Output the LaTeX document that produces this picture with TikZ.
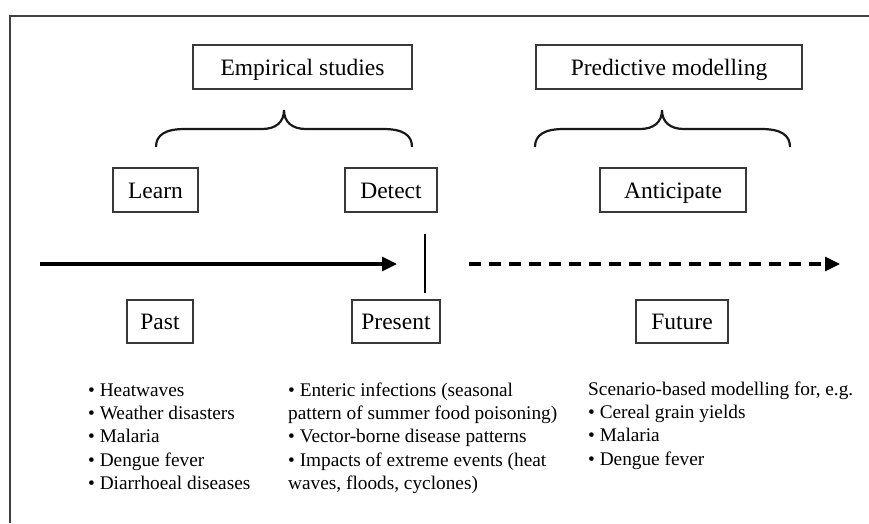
\documentclass[tikz,border=0pt]{standalone}
\usepackage{fontspec}
\setmainfont{Liberation Serif}
\usetikzlibrary{arrows.meta}

\tikzset{
  labelbox/.style={draw=black!78, line width=1.5pt, inner sep=0pt,
    minimum height=44pt, text height=16pt, text depth=0pt,
    font=\fontsize{23.5}{28}\selectfont, text=black},
  brace/.style={line width=2.2pt, black!90},
  timeline/.style={line width=3.2pt, -{Triangle[length=15pt,width=14pt]}},
  listtext/.style={anchor=north west, inner sep=0pt, align=left,
    font=\fontsize{19.3}{23.3}\selectfont},
  frameline/.style={line width=1.6pt, black!75}
}

\begin{document}
\begin{tikzpicture}[x=1pt, y=-1pt]
  \useasboundingbox (0,0) rectangle (869,523);

  % open frame: top and left rules
  \draw[frameline] (869,16) -- (10,16) -- (10,523);

  % approach boxes
  \node[labelbox, minimum width=219pt] (emp)  at (302.5,67) {Empirical studies};
  \node[labelbox, minimum width=266pt] (pred) at (669,67)   {Predictive modelling};

  % braces grouping the activities
  \draw[brace] (156,147) .. controls (156,135) and (165,129) .. (185,129)
    -- (262,129) .. controls (276,129) and (284,122) .. (284,110)
    .. controls (284,122) and (292,129) .. (306,129)
    -- (383,129) .. controls (403,129) and (412,135) .. (412,147);
  \draw[brace] (535,147) .. controls (535,135) and (544,129) .. (564,129)
    -- (640,129) .. controls (654,129) and (662,122) .. (662,110)
    .. controls (662,122) and (670,129) .. (684,129)
    -- (761,129) .. controls (781,129) and (790,135) .. (790,147);

  % activities
  \node[labelbox, minimum width=85pt]  (learn)  at (155.5,190) {Learn};
  \node[labelbox, minimum width=92pt]  (detect) at (391,190)   {Detect};
  \node[labelbox, minimum width=146pt] (antic)  at (673,190)   {Anticipate};

  % time line
  \coordinate (paststart) at (40,264);
  \coordinate (nowarrow)  at (397,264);
  \coordinate (nowtop)    at (425,234);
  \coordinate (nowbottom) at (425,293);
  \coordinate (futstart)  at (469,264);
  \coordinate (futend)    at (840,264);
  \draw[timeline] (paststart) -- (nowarrow);
  \draw[line width=1.5pt] (nowtop) -- (nowbottom);
  \draw[timeline, dash pattern=on 12pt off 8pt] (futstart) -- (futend);

  % periods
  \node[labelbox, minimum width=66pt, minimum height=43pt] (past)    at (160,321.5) {Past};
  \node[labelbox, minimum width=88pt, minimum height=43pt] (present) at (396,321.5) {Present};
  \node[labelbox, minimum width=92pt, minimum height=43pt] (future)  at (682,321.5) {Future};

  % examples
  \node[listtext] (pastlist) at (88,379.7)
    {\strut• Heatwaves\\\strut• Weather disasters\\\strut• Malaria\\\strut• Dengue fever\\\strut• Diarrhoeal diseases};
  \node[listtext] (presentlist) at (288,379.7)
    {\strut• Enteric infections (seasonal\\\strut pattern of summer food poisoning)\\\strut• Vector-borne disease patterns\\\strut• Impacts of extreme events (heat\\\strut waves, floods, cyclones)};
  \node[listtext] (futurelist) at (588,378.7)
    {\strut Scenario-based modelling for, e.g.\\\strut• Cereal grain yields\\\strut• Malaria\\\strut• Dengue fever};
\end{tikzpicture}
\end{document}
